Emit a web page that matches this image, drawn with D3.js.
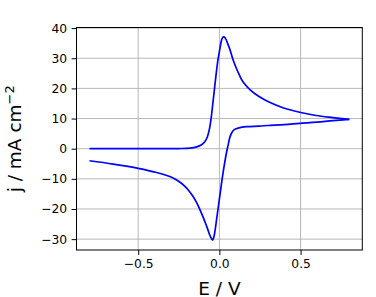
<!DOCTYPE html>
<html><head><meta charset="utf-8">
<script src="https://cdn.jsdelivr.net/npm/d3@7"></script>
<style>
body{margin:0;background:#fff;}
svg{display:block;font-family:"DejaVu Sans",sans-serif;}
</style></head>
<body><svg id="c" width="376" height="297"></svg>
<script>
// Forward scan (E in V, j in mA cm^-2)
const fwdE = [-0.80,-0.40,-0.25,-0.18,-0.14,-0.11,-0.09,-0.075,-0.06,-0.05,-0.04,-0.03,-0.018,-0.008,0.0,0.012,0.02,0.028,0.038,0.05,0.063,0.084,0.105,0.125,0.145,0.186,0.244,0.309,0.391,0.494,0.596,0.699,0.80];
const fwdJ = [0,0,0.05,0.2,0.6,1.3,2.3,3.8,6.9,10.5,15.2,20.0,25.7,29.8,32.2,35.7,36.9,37.1,36.5,35.0,33.2,29.5,26.6,24.2,22.2,19.7,17.3,15.4,13.6,12.1,11.0,10.3,9.7];
// Reverse scan
const revE = [0.80,0.70,0.60,0.494,0.40,0.30,0.244,0.166,0.12,0.094,0.075,0.063,0.053,0.043,0.022,0.002,-0.018,-0.025,-0.032,-0.042,-0.055,-0.07,-0.085,-0.101,-0.12,-0.141,-0.165,-0.183,-0.203,-0.24,-0.285,-0.387,-0.50,-0.654,-0.80];
const revJ = [9.7,9.3,8.8,8.4,8.0,7.7,7.5,7.3,6.9,6.4,5.2,3.5,1.0,-1.5,-8.2,-15.9,-23.7,-26.5,-28.8,-30.3,-29.2,-27.0,-24.8,-22.6,-20.2,-17.8,-15.6,-14.3,-13.0,-11.2,-9.7,-7.9,-6.5,-5.1,-4.0];
const xTicks = [-0.5,0.0,0.5];
const yTicks = [-30,-20,-10,0,10,20,30,40];

const L=76.5, T=27.5, W=285.8, H=222.5;
const svg = d3.select("#c");
const x = d3.scaleLinear().domain([-0.88,0.88]).range([L,L+W]);
const y = d3.scaleLinear().domain([-33.6,40.2]).range([T+H,T]);
const fmtX = v => (v<0?"\u2212":"")+Math.abs(v).toFixed(1);
const fmtY = v => (v<0?"\u2212":"")+Math.abs(v);

// grid
const g = svg.append("g");
g.selectAll(".gx").data(xTicks).join("line")
  .attr("x1",d=>x(d)).attr("x2",d=>x(d)).attr("y1",T).attr("y2",T+H)
  .attr("stroke","#b0b0b0").attr("stroke-width",0.9);
g.selectAll(".gy").data(yTicks).join("line")
  .attr("y1",d=>y(d)).attr("y2",d=>y(d)).attr("x1",L).attr("x2",L+W)
  .attr("stroke","#b0b0b0").attr("stroke-width",0.9);

// curves
const line = d3.line().x(d=>x(d[0])).y(d=>y(d[1])).curve(d3.curveCatmullRom.alpha(0.5));
const fwd = fwdE.map((e,i)=>[e,fwdJ[i]]);
const rev = revE.map((e,i)=>[e,revJ[i]]);
[fwd,rev].forEach(data=>{
  svg.append("path").attr("d",line(data)).attr("fill","none")
    .attr("stroke","#0000ff").attr("stroke-width",1.7).attr("stroke-linejoin","round");
});

// axes
const ax = svg.append("g").attr("transform",`translate(0,${T+H})`)
  .call(d3.axisBottom(x).tickValues(xTicks).tickFormat(fmtX).tickSize(4.9).tickPadding(4.5));
const ay = svg.append("g").attr("transform",`translate(${L},0)`)
  .call(d3.axisLeft(y).tickValues(yTicks).tickFormat(fmtY).tickSize(4.9).tickPadding(4.5));
[ax,ay].forEach(a=>{
  a.select(".domain").remove();
  a.selectAll("text").attr("font-size","12.3px").attr("fill","#000").attr("font-family","DejaVu Sans");
  a.selectAll("line").attr("stroke","#000").attr("stroke-width",1);
});
svg.append("rect").attr("x",L).attr("y",T).attr("width",W).attr("height",H)
  .attr("fill","none").attr("stroke","#000").attr("stroke-width",1);

// labels
svg.append("text").attr("x",L+W/2).attr("y",294.5).attr("text-anchor","middle")
  .attr("font-size","18.5px").text("E / V");
const yl = svg.append("text").attr("transform",`translate(21,${T+H/2}) rotate(-90)`)
  .attr("text-anchor","middle").attr("font-size","18.5px");
yl.append("tspan").text("j / mA cm");
yl.append("tspan").attr("dy",-7).attr("font-size","13px").text("\u22122");
</script></body></html>
